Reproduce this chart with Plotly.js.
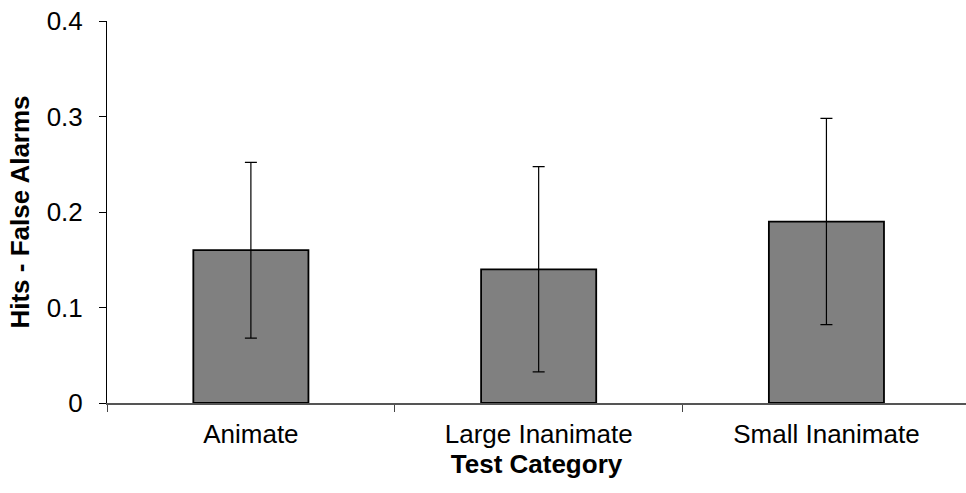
<!DOCTYPE html>
<html>
<head>
<meta charset="utf-8">
<script src="https://cdn.plot.ly/plotly-3.0.1.min.js"></script>
<style>
html,body{margin:0;padding:0;background:#fff;}
#chart{width:966px;height:493px;}
</style>
</head>
<body>
<div id="chart"></div>
<script>
var categories = ["Animate", "Large Inanimate", "Small Inanimate"];
var values = [0.16, 0.14, 0.19];
var errors = [0.092, 0.1075, 0.108];
var yTickVals = [0, 0.1, 0.2, 0.3, 0.4];
var yTickText = ["0", "0.1", "0.2", "0.3", "0.4"];

var FONT = "Liberation Sans, Arial, sans-serif";

var trace = {
  type: "bar",
  x: categories,
  y: values,
  width: 0.4,
  marker: {color: "#808080", line: {color: "#000000", width: 1.8}},
  error_y: {type: "data", array: errors, visible: true, color: "#000000", thickness: 1.2, width: 6},
  hoverinfo: "x+y"
};

var layout = {
  width: 966,
  height: 493,
  margin: {l: 107, r: 0, t: 21, b: 90, pad: 0},
  paper_bgcolor: "#ffffff",
  plot_bgcolor: "#ffffff",
  showlegend: false,
  font: {family: FONT, size: 26, color: "#000000"},
  xaxis: {
    type: "category",
    range: [-0.5, 2.485],
    showline: true,
    linecolor: "#555555",
    linewidth: 1.5,
    ticks: "outside",
    tickson: "boundaries",
    ticklen: 7,
    tickcolor: "#444444",
    tickwidth: 1,
    showgrid: false,
    zeroline: false,
    tickfont: {family: FONT, size: 26, color: "#000000"},
    ticklabelstandoff: 7,
    title: {text: "<b>Test Category</b>", font: {family: FONT, size: 26, color: "#000000"}, standoff: 5},
    automargin: false,
    fixedrange: true
  },
  yaxis: {
    range: [0, 0.4],
    tickvals: yTickVals,
    ticktext: yTickText,
    showline: true,
    linecolor: "#000000",
    linewidth: 1,
    ticks: "outside",
    ticklen: 7,
    tickcolor: "#000000",
    tickwidth: 1,
    showgrid: false,
    zeroline: false,
    tickfont: {family: FONT, size: 26, color: "#000000"},
    ticklabelstandoff: 11,
    title: {text: "<b>Hits - False Alarms</b>", font: {family: FONT, size: 26, color: "#000000"}, standoff: 9},
    automargin: false,
    fixedrange: true
  }
};

Plotly.newPlot("chart", [trace], layout, {displayModeBar: false, staticPlot: true});
</script>
</body>
</html>
